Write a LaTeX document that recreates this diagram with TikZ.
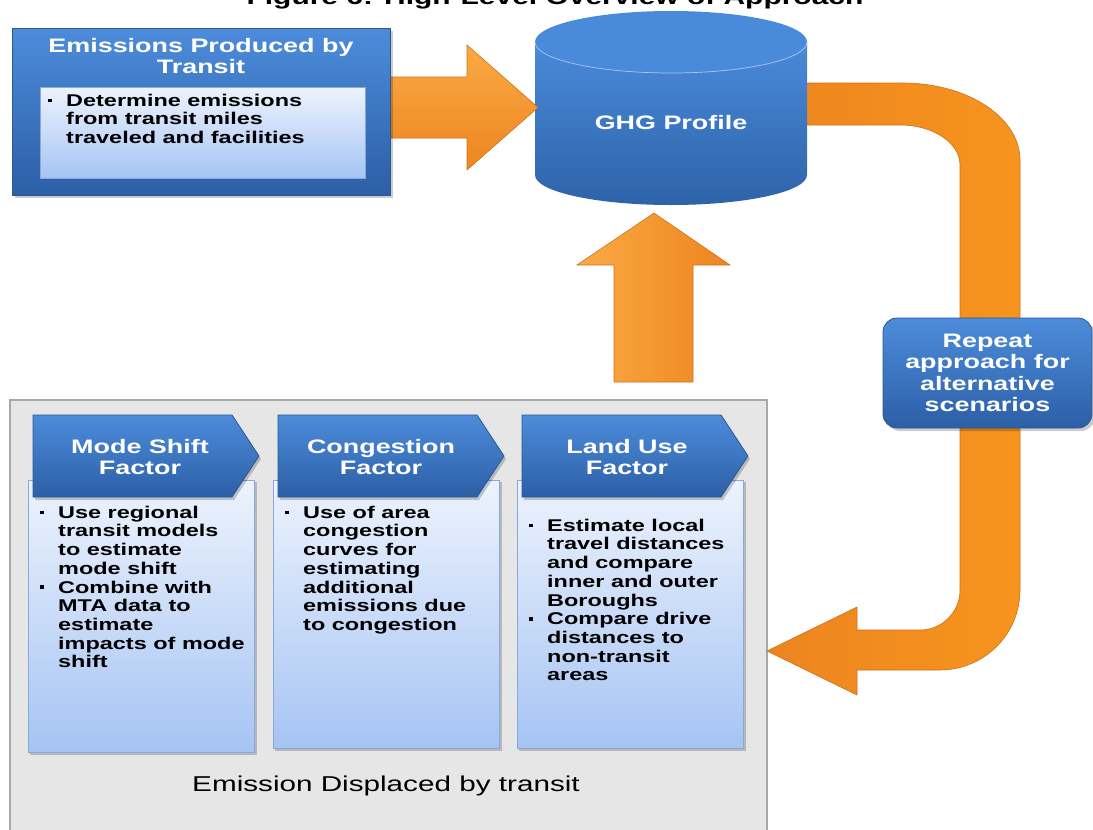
\documentclass[tikz,border=0pt]{standalone}
\usepackage{fontspec}
\setmainfont{Liberation Sans}[FakeStretch=1.38]
\usetikzlibrary{calc}

\definecolor{boxtop}{HTML}{4D8CDB}
\definecolor{boxbot}{HTML}{2C5FA6}
\definecolor{boxline}{HTML}{2A5893}
\definecolor{paletop}{HTML}{EDF3FD}
\definecolor{palebot}{HTML}{A6C4F3}
\definecolor{paleline}{HTML}{86A9DE}
\definecolor{arrlight}{HTML}{FBAA45}
\definecolor{arrmid}{HTML}{F7941E}
\definecolor{arrdark}{HTML}{EC851F}
\definecolor{arrline}{HTML}{D0711A}
\definecolor{panel}{HTML}{E6E6E6}
\definecolor{panelline}{HTML}{A8A8A8}
\definecolor{cyltop}{HTML}{4A8ADA}
\definecolor{cylbot}{HTML}{2E63A8}
\definecolor{cylrim}{HTML}{A9C8F0}

\newcommand\bul{\raisebox{4pt}{\rule{3.6pt}{3.6pt}}}
\newcommand\bi{\makebox[18pt][l]{\bul}}
% bullet lists, one per box
\newcommand\srclist{\begin{tabular}{@{}l@{}l@{}}\bi & Determine emissions\\ & from transit miles\\ & traveled and facilities\end{tabular}}
\newcommand\modelist{\begin{tabular}{@{}l@{}l@{}}\bi & Use regional\\ & transit models\\ & to estimate\\ & mode shift\\ \bi & Combine with\\ & MTA data to\\ & estimate\\ & impacts of mode\\ & shift\end{tabular}}
\newcommand\conglist{\begin{tabular}{@{}l@{}l@{}}\bi & Use of area\\ & congestion\\ & curves for\\ & estimating\\ & additional\\ & emissions due\\ & to congestion\end{tabular}}
\newcommand\landlist{\begin{tabular}{@{}l@{}l@{}}\bi & Estimate local\\ & travel distances\\ & and compare\\ & inner and outer\\ & Boroughs\\ \bi & Compare drive\\ & distances to\\ & non-transit\\ & areas\end{tabular}}

\tikzset{
  bluebox/.style={top color=boxtop, bottom color=boxbot, draw=boxline, line width=0.8pt},
  palebox/.style={top color=paletop, bottom color=palebot, draw=paleline, line width=0.8pt},
  boxshadow/.style={fill=black, opacity=0.2},
  bigarrow/.style={top color=arrlight, bottom color=arrdark, draw=arrline, line width=0.6pt},
  uparrow/.style={left color=arrlight, right color=arrdark, draw=arrline, line width=0.6pt},
  head/.style={text=white, font=\fontsize{19.5}{20.5}\selectfont\bfseries, align=center, inner sep=0pt},
  body/.style={text=black, font=\fontsize{17}{18.7}\selectfont\bfseries, inner sep=0pt, anchor=north west},
}

\begin{document}
\begin{tikzpicture}[x=1pt, y=-1pt]
\useasboundingbox (0,0) rectangle (1093,830);
\clip (0,0) rectangle (1093,830);

\node[font=\fontsize{21.7}{24}\selectfont\bfseries, anchor=base] (title) at (555,4) {Figure 6: High-Level Overview of Approach};

% displaced emissions panel
\path[fill=panel, draw=panelline, line width=1.5pt] (10,400) rectangle (767,845);
\node[font=\fontsize{21.5}{24}\selectfont] (disp) at (386,786) {Emission Displaced by transit};

\foreach \cx/\ty/\by/\hx/\hd/\bd [count=\i] in {
  33/505/752/107/{Mode Shift\\Factor}/\modelist,
  278/505/748/103/{Congestion\\Factor}/\conglist,
  522/518/748/105/{Land Use\\Factor}/\landlist
}
{
  \fill[boxshadow] (\cx-3,482) rectangle (\cx+224,\by+3);
  \shade[palebox] (\cx-5,480) rectangle (\cx+221,\by);
  \fill[boxshadow] (\cx+2,418) -- (\cx+201,418) -- (\cx+228,459) -- (\cx+201,500) -- (\cx+2,500) -- cycle;
  \shade[bluebox] (\cx,415) -- (\cx+199,415) -- (\cx+226,456) -- (\cx+199,497) -- (\cx,497) -- cycle;
  \node[head] (h\i) at (\cx+\hx,457) {\hd};
  \node[body] (b\i) at (\cx+7,\ty) {\bd};
}

% loop back arrow (quarter ellipses as curves)
\shade[left color=arrdark, right color=arrmid, draw=arrline, line width=0.6pt]
  (790,83) -- (903,83) .. controls (967.6,83) and (1020,117.5) .. (1020,160)
  -- (1020,590) .. controls (1020,634.2) and (984.2,670) .. (940,670)
  -- (857,670) -- (857,695) -- (767,651) -- (857,607) -- (857,630)
  -- (920,630) .. controls (942.1,630) and (960,612.1) .. (960,590)
  -- (960,165) .. controls (960,142.9) and (933.1,125) .. (900,125)
  -- (790,125) -- cycle;

% GHG cylinder
\shade[top color=cyltop, bottom color=cylbot] (535,42) -- (535,175)
  arc[start angle=180, end angle=0, x radius=136, y radius=30] -- (807,42) -- cycle;
\fill[cyltop] (671,42) ellipse[x radius=136, y radius=31];
\draw[cylrim, line width=0.7pt] (535,42) arc[start angle=180, end angle=0, x radius=136, y radius=31];
\node[head] (ghg) at (671,123) {GHG Profile};

% arrows into the profile
\shade[bigarrow] (385,77) -- (467,77) -- (467,45) -- (538,107.5) -- (467,170) -- (467,138) -- (385,138) -- cycle;
\shade[uparrow] (614,382) -- (614,265) -- (577,265) -- (654,213) -- (730,265) -- (693,265) -- (693,382) -- cycle;

% repeat box
\fill[boxshadow, rounded corners=14pt] (886,321) rectangle (1095,431);
\shade[bluebox, rounded corners=14pt] (883,318) rectangle (1092,428);
\node[head, font=\fontsize{19.5}{21.5}\selectfont\bfseries] (rep) at (987.5,373) {Repeat\\approach for\\alternative\\scenarios};

% produced by transit
\fill[boxshadow] (15,31) rectangle (393,198);
\shade[bluebox] (12,28) rectangle (390,195);
\node[head] (src) at (201,56) {Emissions Produced by\\Transit};
\shade[palebox] (40,87) rectangle (365,178);
\node[body] (srcb) at (48,93) {\srclist};

\end{tikzpicture}
\end{document}
